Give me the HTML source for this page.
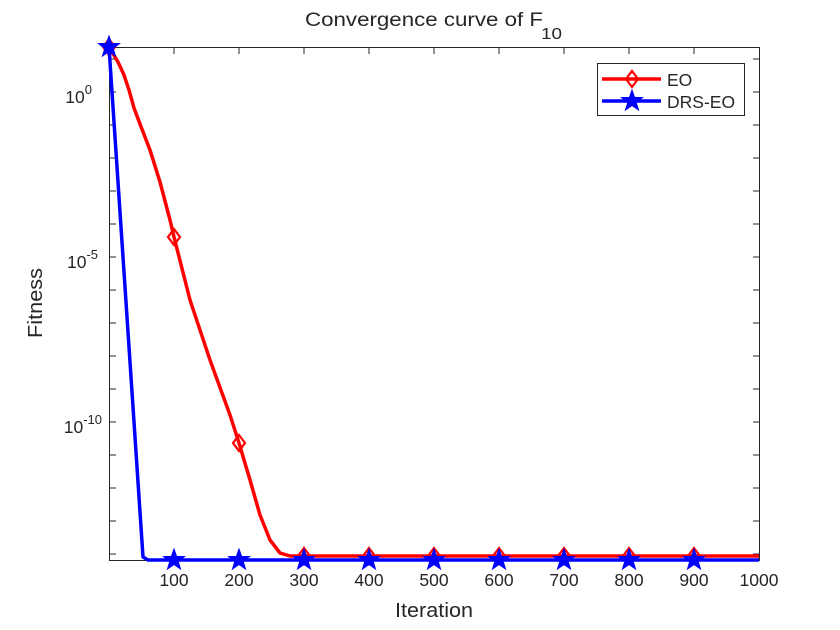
<!DOCTYPE html>
<html><head><style>body{margin:0;background:#fff}svg{display:block}text{font-family:"Liberation Sans",sans-serif;fill:#262626}</style></head>
<body>
<svg width="840" height="630" xmlns="http://www.w3.org/2000/svg">
<rect width="840" height="630" fill="#fff"/>
<g stroke="#262626" stroke-width="1" fill="none">
<rect x="109.5" y="47.5" width="650" height="513"/>
<path d="M174 560v-6M239 560v-6M304 560v-6M369 560v-6M434 560v-6M499 560v-6M564 560v-6M629 560v-6M694 560v-6M759 560v-6
M174 48v6M239 48v6M304 48v6M369 48v6M434 48v6M499 48v6M564 48v6M629 48v6M694 48v6"/>
<path d="M110 59h6M110 92h6M110 125h6M110 158h6M110 191h6M110 224h6M110 257h6M110 290h6M110 323h6M110 356h6M110 389h6M110 422h6M110 455h6M110 488h6M110 521h6M110 554h6
M759 59h-6M759 92h-6M759 125h-6M759 158h-6M759 191h-6M759 224h-6M759 257h-6M759 290h-6M759 323h-6M759 356h-6M759 389h-6M759 422h-6M759 455h-6M759 488h-6M759 521h-6M759 554h-6"/>
</g>
<g font-size="17.5" text-anchor="middle">
<text x="174" y="586">100</text><text x="239" y="586">200</text><text x="304" y="586">300</text><text x="369" y="586">400</text><text x="434" y="586">500</text><text x="499" y="586">600</text><text x="564" y="586">700</text><text x="629" y="586">800</text><text x="694" y="586">900</text><text x="759" y="586">1000</text>
</g>
<g font-size="17.5" text-anchor="end">
<text x="92" y="103">10<tspan dy="-9" font-size="13">0</tspan></text>
<text x="98" y="268">10<tspan dy="-9" font-size="13">-5</tspan></text>
<text x="102" y="433">10<tspan dy="-9" font-size="13">-10</tspan></text>
</g>
<text x="434" y="617" font-size="20" text-anchor="middle" textLength="78" lengthAdjust="spacingAndGlyphs">Iteration</text>
<text transform="translate(42,303) rotate(-90)" font-size="20" text-anchor="middle" textLength="70" lengthAdjust="spacingAndGlyphs">Fitness</text>
<text x="305" y="26" font-size="19" textLength="238" lengthAdjust="spacingAndGlyphs">Convergence curve of F</text>
<text x="541" y="39" font-size="16" textLength="21" lengthAdjust="spacingAndGlyphs">10</text>
<polyline fill="none" stroke="#f00" stroke-width="3.5" stroke-linejoin="round" points="109,47 118,62 124,75 129,90 134,108 140,124 150,150 160,182 170,220 174,237 190,300 210,360 230,415 239,443 250,480 260,515 270,540 280,553 290,556 759,556"/>
<g fill="none" stroke="#f00" stroke-width="2.2">
<path d="M174 229l6 8-6 8-6-8z M239 435l6 8-6 8-6-8z M304 548l6 8-6 8-6-8z M369 548l6 8-6 8-6-8z M434 548l6 8-6 8-6-8z M499 548l6 8-6 8-6-8z M564 548l6 8-6 8-6-8z M629 548l6 8-6 8-6-8z M694 548l6 8-6 8-6-8z M109 39l6 8-6 8-6-8z"/>
</g>
<polyline fill="none" stroke="#00f" stroke-width="3.5" stroke-linejoin="round" points="109,47 143,557 148,560 759,560"/>
<defs><path id="st" d="M0,-11 L2.6,-3.6 10.5,-3.4 4.2,1.4 6.5,9 0,4.5 -6.5,9 -4.2,1.4 -10.5,-3.4 -2.6,-3.6Z" fill="#00f" stroke="#00f" stroke-width="1"/></defs>
<use href="#st" x="109" y="47"/><use href="#st" x="174" y="560"/><use href="#st" x="239" y="560"/><use href="#st" x="304" y="560"/><use href="#st" x="369" y="560"/><use href="#st" x="434" y="560"/><use href="#st" x="499" y="560"/><use href="#st" x="564" y="560"/><use href="#st" x="629" y="560"/><use href="#st" x="694" y="560"/>
<rect x="597.5" y="63.5" width="147" height="52" fill="#fff" stroke="#262626"/>
<line x1="602" y1="79" x2="661" y2="79" stroke="#f00" stroke-width="3.5"/>
<path d="M632 71l6 8-6 8-6-8z" fill="none" stroke="#f00" stroke-width="2.2"/>
<line x1="602" y1="101" x2="661" y2="101" stroke="#00f" stroke-width="3.5"/>
<use href="#st" x="632" y="101"/>
<text x="667" y="86" font-size="17.5">EO</text>
<text x="667" y="108" font-size="17.5">DRS-EO</text>
</svg>
</body></html>
